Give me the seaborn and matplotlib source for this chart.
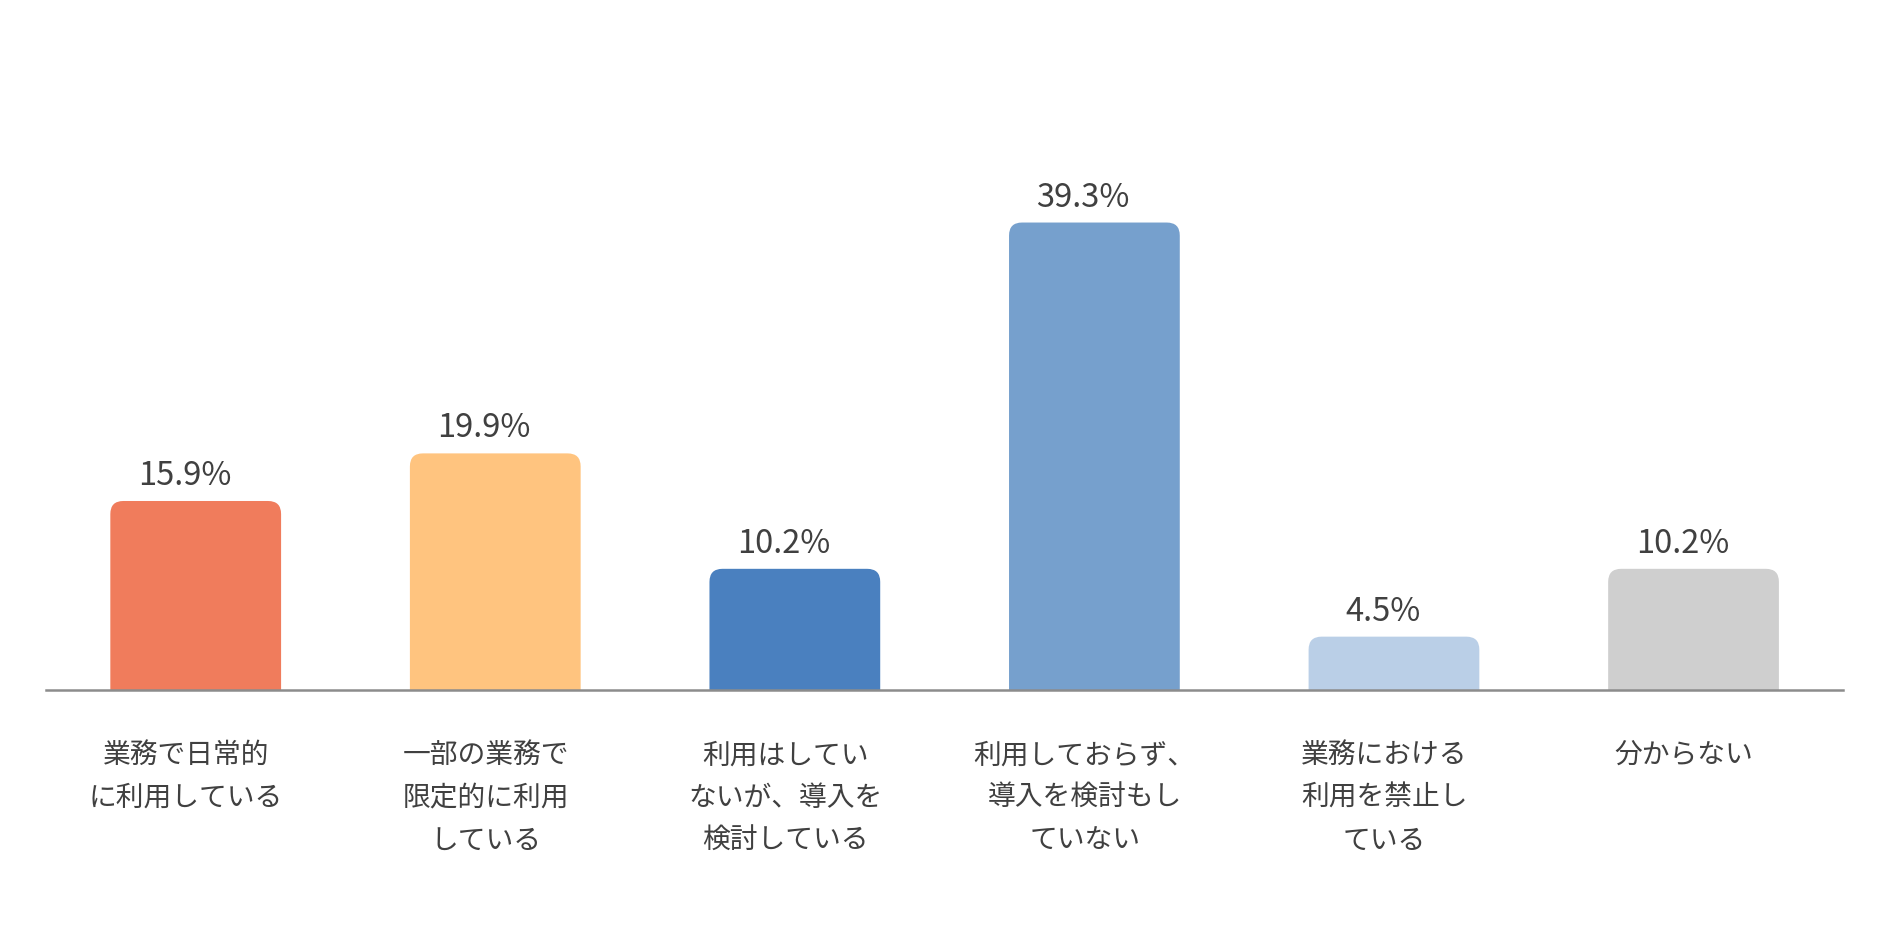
import matplotlib
matplotlib.use('Agg')
import matplotlib.pyplot as plt
import matplotlib.transforms as mtransforms
from matplotlib.patches import FancyBboxPatch
import seaborn as sns


# chart data
categories = [
    '業務で日常的\nに利用している',
    '一部の業務で\n限定的に利用\nしている',
    '利用はしてい\nないが、導入を\n検討している',
    '利用しておらず、\n導入を検討もし\nていない',
    '業務における\n利用を禁止し\nている',
    '分からない',
]
values = [15.9, 19.9, 10.2, 39.3, 4.5, 10.2]
value_labels = ['15.9%', '19.9%', '10.2%', '39.3%', '4.5%', '10.2%']
colors = ['#F07C5C', '#FFC47F', '#4A80BF', '#76A0CD', '#BACFE7', '#CFCFCF']

TEXT_COLOR = '#404040'
AXIS_COLOR = '#8C8C8C'


def round_bar_tops(ax, radius_px=13):
    # swap each seaborn bar for a patch with rounded top corners
    p0 = ax.transData.transform((0, 0))
    p1 = ax.transData.transform((1, 1))
    px_x = p1[0] - p0[0]
    px_y = p1[1] - p0[1]
    aspect = px_x / px_y
    size = radius_px / px_x
    for bar in list(ax.patches):
        x, w, h = bar.get_x(), bar.get_width(), bar.get_height()
        color = bar.get_facecolor()
        bar.remove()
        ax.add_patch(FancyBboxPatch(
            (x, -3), w, h + 3,
            boxstyle=f'round,pad=0,rounding_size={size}',
            mutation_aspect=aspect,
            facecolor=color, edgecolor='none', zorder=1,
        ))


def main():
    sns.set_style('white')
    plt.rcParams['font.family'] = ['Noto Sans CJK JP', 'DejaVu Sans']

    fig = plt.figure(figsize=(18.9, 9.52), dpi=100)
    ax = fig.add_axes([0.0243, 0.275, 0.951, 0.625])

    sns.barplot(x=categories, y=values, hue=categories, palette=colors,
                width=0.57, saturation=1, legend=False, ax=ax)

    ax.set_xlim(-0.5, 5.5)
    ax.set_ylim(0, 50)
    round_bar_tops(ax)

    for i, (v, lab) in enumerate(zip(values, value_labels)):
        ax.annotate(lab, (i, v), xytext=(-8, 11.5), textcoords='offset points',
                    ha='center', va='baseline', fontsize=23.5, color=TEXT_COLOR)

    ax.set_yticks([])
    ax.set_ylabel('')
    ax.set_xlabel('')
    ax.tick_params(axis='x', length=0, pad=36, labelsize=20, labelcolor=TEXT_COLOR)
    shift = mtransforms.ScaledTranslation(-7 / 72, 0, fig.dpi_scale_trans)
    for t in ax.get_xticklabels():
        t.set_linespacing(1.55)
        t.set_transform(t.get_transform() + shift)

    for side in ['left', 'top', 'right']:
        ax.spines[side].set_visible(False)
    ax.spines['bottom'].set_color(AXIS_COLOR)
    ax.spines['bottom'].set_linewidth(1.8)

    fig.savefig('out.png', dpi=100, facecolor='white')
    plt.close(fig)


if __name__ == '__main__':
    main()
